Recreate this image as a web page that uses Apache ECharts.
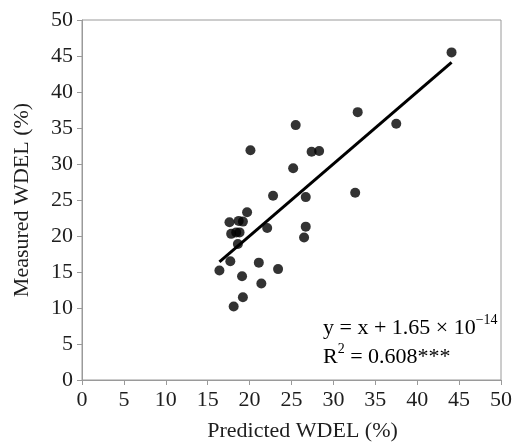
<!DOCTYPE html>
<html>
<head>
<meta charset="utf-8">
<script src="https://cdn.jsdelivr.net/npm/echarts@6/dist/echarts.min.js"></script>
<style>
  html, body { margin: 0; padding: 0; background: #fff; }
  #chart { width: 515px; height: 447px; }
</style>
</head>
<body>
<div id="chart"></div>
<script>
// Predicted vs measured WDEL (%), one entry per sample
const predicted = [44.1, 32.9, 37.5, 32.6, 25.5, 20.1, 27.4, 28.3, 25.2, 22.8,
                   26.7, 19.7, 17.6, 18.7, 19.2, 22.1, 26.7, 26.5, 17.8, 18.4,
                   18.8, 18.6, 17.7, 16.4, 21.1, 23.4, 19.1, 21.4, 19.2, 18.1];
const measured  = [45.5, 37.2, 35.6, 26.0, 35.4, 31.9, 31.7, 31.8, 29.4, 25.6,
                   25.4, 23.3, 21.9, 22.1, 22.0, 21.1, 21.3, 19.8, 20.3, 20.5,
                   20.5, 18.9, 16.5, 15.2, 16.3, 15.4, 14.4, 13.4, 11.5, 10.2];
const axisTicks = [0, 5, 10, 15, 20, 25, 30, 35, 40, 45, 50];

// Fitted line: y = x + 1.65e-14
const fitSlope = 1;
const fitIntercept = 1.65e-14;
const fitR2 = '0.608';

const points = predicted.map((p, i) => [p, measured[i]]);
const xLo = Math.min(...predicted);
const xHi = Math.max(...predicted);
const fitLine = [[xLo, fitSlope * xLo + fitIntercept], [xHi, fitSlope * xHi + fitIntercept]];

const serif = "'Liberation Serif', 'Times New Roman', serif";
const textColor = '#1e1e1e';
const frameColor = '#9a9a9a';

function axisCfg(name, gap, namePad) {
  return {
    type: 'value',
    min: axisTicks[0],
    max: axisTicks[axisTicks.length - 1],
    interval: axisTicks[1] - axisTicks[0],
    name: name,
    nameLocation: 'middle',
    nameGap: gap,
    nameTextStyle: { fontFamily: serif, fontSize: 22, color: textColor, padding: namePad },
    axisLine: { show: true, lineStyle: { color: frameColor, width: 1 } },
    axisTick: { show: true, inside: false, length: 5, lineStyle: { color: frameColor } },
    axisLabel: { fontFamily: serif, fontSize: 22, color: textColor, margin: 9 },
    splitLine: { show: false }
  };
}

const chart = echarts.init(document.getElementById('chart'), null, { renderer: 'canvas' });
chart.setOption({
  animation: false,
  backgroundColor: '#fff',
  grid: {
    left: 82, right: 11, top: 20, bottom: 63,
    show: true, borderColor: frameColor, borderWidth: 1, backgroundColor: 'transparent'
  },
  xAxis: axisCfg('Predicted WDEL (%)', 40, [0, 0, 0, 22]),
  yAxis: axisCfg('Measured WDEL (%)', 49, 0),
  series: [
    {
      type: 'line',
      data: fitLine,
      showSymbol: false,
      symbol: 'none',
      lineStyle: { color: '#000', width: 3 },
      z: 2
    },
    {
      type: 'scatter',
      data: points,
      symbol: 'circle',
      symbolSize: 10,
      itemStyle: { color: '#000' },
      z: 3
    }
  ],
  graphic: [
    {
      type: 'text',
      left: 323,
      top: 310,
      style: {
        text: '{a|y = x + 1.65 × 10}{s|−14}\n{a|R}{s|2}{a| = ' + fitR2 + '***}',
        rich: {
          a: { fontFamily: serif, fontSize: 22, color: textColor, lineHeight: 29, verticalAlign: 'bottom' },
          s: { fontFamily: serif, fontSize: 14, color: textColor, lineHeight: 29, verticalAlign: 'top', padding: [3, 0, 0, 0] }
        }
      }
    }
  ]
});
</script>
</body>
</html>
